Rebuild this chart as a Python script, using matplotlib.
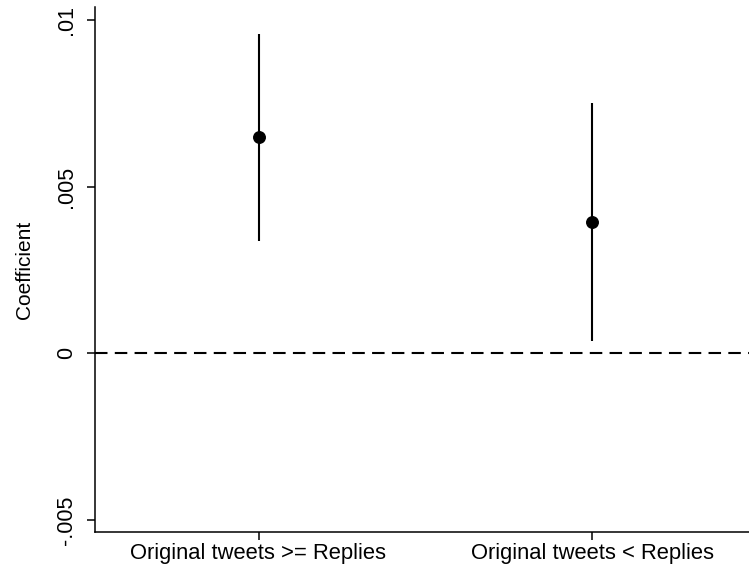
import matplotlib
matplotlib.use("Agg")
import matplotlib.pyplot as plt

categories = ["Original tweets >= Replies", "Original tweets < Replies"]
coef = [0.00649, 0.00394]
ci_low = [0.00337, 0.00037]
ci_high = [0.00958, 0.00751]
yticks = [-0.005, 0, 0.005, 0.01]
yticklabels = ["-.005", "0", ".005", ".01"]

plt.rcParams['font.family'] = ['Liberation Sans', 'DejaVu Sans']

fig = plt.figure(figsize=(7.49, 5.69), dpi=100)
ax = fig.add_axes([95/749, 1-532/569, 1-95/749, (532-7)/569])

x = [1, 2]
ax.axhline(0, color='black', lw=1.5, ls=(0, (6, 3.5)), zorder=1)
ax.vlines(x, ci_low, ci_high, color='black', lw=1.5, zorder=2)
ax.plot(x, coef, 'o', color='black', markersize=8.3, zorder=3)

ax.set_xlim(0.51, 2.47)
ax.set_ylim(-0.00536, 0.01039)
ax.set_xticks(x)
ax.set_xticklabels(categories, fontsize=15.8)
ax.set_yticks(yticks)
ax.set_yticklabels(yticklabels, fontsize=15.5, rotation=90, va='center')
ax.set_ylabel("Coefficient", fontsize=15, labelpad=16)
for s in ['top', 'right']:
    ax.spines[s].set_visible(False)
for s in ['left', 'bottom']:
    ax.spines[s].set_linewidth(1.1)
ax.tick_params(direction='out', length=6, width=1.1, pad=7)
ax.tick_params(axis='x', pad=2)

fig.savefig("out.png", dpi=100)
